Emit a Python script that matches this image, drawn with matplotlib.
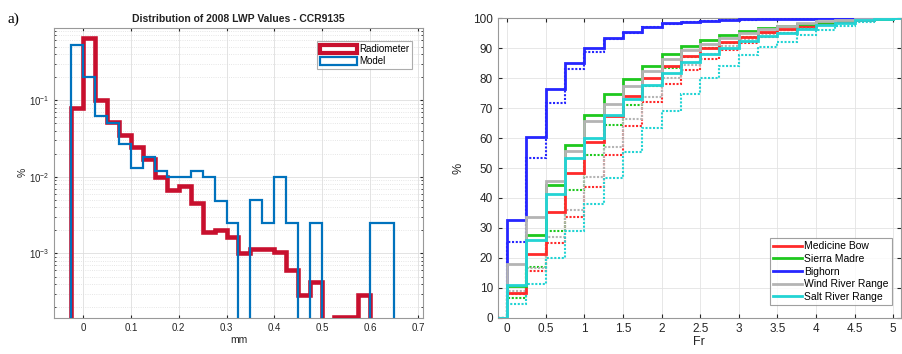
import numpy as np
import matplotlib
matplotlib.use("Agg")
import matplotlib.pyplot as plt
from matplotlib.patches import Patch
from matplotlib.lines import Line2D

plt.rcParams['font.family'] = ['Liberation Sans', 'DejaVu Sans']

#### left panel: LWP histogram (percent per 0.025 mm bin) ####
bin_edges = np.arange(-0.025, 0.651, 0.025)
radiometer = [0.078, 0.65, 0.10, 0.052, 0.035, 0.0247, 0.017, 0.0098, 0.0068,
              0.0076, 0.0045, 0.0019, 0.0020, 0.00166, 0.0010, 0.00114, 0.00114,
              0.00105, 0.0006, 0.00029, 0.00043, 0.0, 0.000146, 0.000146,
              0.00029, 0.0, 0.0]
model = [0.52, 0.20, 0.062, 0.050, 0.027, 0.0129, 0.018, 0.012, 0.010, 0.010,
         0.012, 0.010, 0.0049, 0.0025, 0.0, 0.005, 0.0025, 0.010, 0.0025, 0.0,
         0.0025, 0.0, 0.0, 0.0, 0.0, 0.0025, 0.0025]

#### right panel: cumulative distributions of Fr (%), 0.25 wide bins ####
fr_edges = np.arange(0, 5.01, 0.25)
regions = ['Medicine Bow', 'Sierra Madre', 'Bighorn', 'Wind River Range', 'Salt River Range']
colors = ['#ff2a2a', '#1ec81e', '#2626ff', '#b4b4b4', '#22d4d4']
cdf_solid = [
    [8.4, 21.2, 35.4, 48.2, 58.6, 67.5, 74.0, 80.0, 84.0, 87.3, 90.0, 92.0, 93.8, 95.3, 96.5, 97.5, 98.3, 99.0, 99.5, 99.8],
    [10.5, 27.6, 44.3, 57.8, 67.8, 74.6, 79.6, 84.0, 88.1, 90.9, 92.6, 94.3, 95.6, 96.6, 97.5, 98.2, 98.8, 99.3, 99.7, 99.9],
    [32.6, 60.5, 76.3, 85.2, 90.0, 93.3, 95.5, 97.2, 98.3, 98.9, 99.2, 99.4, 99.6, 99.7, 99.8, 99.9, 100, 100, 100, 100],
    [17.9, 33.5, 45.8, 55.8, 65.8, 71.5, 77.5, 82.5, 86.5, 89.5, 91.5, 93.3, 95.0, 96.3, 97.4, 98.3, 99.0, 99.5, 99.8, 100],
    [11.0, 26.0, 41.2, 53.2, 60.0, 67.8, 73.0, 77.7, 81.8, 85.4, 88.0, 90.2, 92.3, 94.0, 95.2, 96.5, 97.6, 98.5, 99.3, 99.8],
]
cdf_dotted = [
    [7.8, 15.6, 24.8, 33.5, 43.8, 54.3, 63.9, 72.2, 78.0, 82.8, 86.5, 89.5, 91.8, 93.7, 95.2, 96.5, 97.6, 98.6, 99.3, 99.8],
    [6.7, 17.0, 29.0, 42.5, 54.4, 64.3, 71.0, 77.4, 83.3, 87.2, 90.0, 91.9, 93.9, 95.0, 96.2, 97.2, 98.1, 98.9, 99.5, 99.9],
    [25.4, 53.2, 71.6, 83.0, 88.9, 93.0, 95.0, 97.0, 98.0, 98.7, 99.1, 99.3, 99.5, 99.7, 99.8, 99.9, 100, 100, 100, 100],
    [9.0, 16.5, 27.0, 36.0, 47.0, 57.1, 66.3, 73.8, 80.0, 84.5, 88.0, 90.8, 93.0, 94.8, 96.2, 97.4, 98.3, 99.0, 99.5, 99.9],
    [4.5, 11.3, 19.8, 29.1, 37.9, 46.8, 55.5, 63.2, 69.0, 74.8, 80.0, 84.2, 87.8, 90.4, 92.2, 94.4, 96.1, 97.4, 98.9, 99.8],
]

axis_col = '#262626'
red = '#c8102e'
blue = '#0072bd'

fig = plt.figure(figsize=(9.02, 3.54), dpi=100)
ax1 = fig.add_axes([0.0602, 0.1025, 0.4084, 0.8192])
ax2 = fig.add_axes([0.5518, 0.1025, 0.4471, 0.8458])

# ---- left ----
ax1.set_yscale('log')
ax1.stairs(radiometer, bin_edges, baseline=1e-9, color=red, lw=3.3, zorder=3)
ax1.stairs(model, bin_edges, baseline=1e-9, color=blue, lw=1.6, zorder=4)
ax1.set_xlim(-0.06, 0.71)
ax1.set_ylim(1.45e-4, 0.88)
ax1.set_xticks(np.arange(0, 0.71, 0.1))
ax1.set_xticklabels(['0', '0.1', '0.2', '0.3', '0.4', '0.5', '0.6', '0.7'])
ax1.grid(True, which='major', color='#dedede', lw=0.6)
ax1.grid(True, which='minor', axis='y', color='#dedede', lw=0.6, ls=':')
ax1.tick_params(which='both', direction='in', top=True, right=True, colors=axis_col,
                labelsize=7, length=2.5)
ax1.tick_params(which='minor', length=1.5)
ax1.set_title('Distribution of 2008 LWP Values - CCR9135', fontsize=7.5,
              fontweight='bold', color='#222222', pad=4)
ax1.set_xlabel('mm', fontsize=7.5, color=axis_col, labelpad=2)
ax1.set_ylabel('%', fontsize=7.5, color=axis_col, labelpad=1)
for s in ax1.spines.values():
    s.set_color('#999999')
    s.set_linewidth(0.8)
handles = [Patch(facecolor='white', edgecolor=red, lw=3, label='Radiometer'),
           Patch(facecolor='white', edgecolor=blue, lw=1.6, label='Model')]
leg = ax1.legend(handles=handles, loc='upper right', fontsize=7, frameon=True,
                 fancybox=False, edgecolor='#999999', handlelength=3.8,
                 handleheight=0.9, borderpad=0.3, labelspacing=0.2,
                 handletextpad=0.2, bbox_to_anchor=(0.985, 0.97))
leg.get_frame().set_linewidth(0.8)
fig.text(0.008, 0.965, 'a)', fontsize=11, family='Liberation Serif', va='top')

# ---- right ----
x_lo, x_hi = -0.12, 5.1
step_edges = np.concatenate([[x_lo], fr_edges, [x_hi]])
for i in range(len(regions)):
    ax2.stairs([0] + cdf_dotted[i] + [100], step_edges, baseline=None,
               color=colors[i], lw=1.5, ls=(0, (1.0, 0.8)), zorder=3)
    ax2.stairs([0] + cdf_solid[i] + [100], step_edges, baseline=None,
               color=colors[i], lw=2.0, zorder=4)
ax2.set_xlim(x_lo, x_hi)
ax2.set_ylim(0, 100)
ax2.set_xticks(np.arange(0, 5.01, 0.5))
ax2.set_xticklabels(['0', '0.5', '1', '1.5', '2', '2.5', '3', '3.5', '4', '4.5', '5'])
ax2.set_yticks(np.arange(0, 101, 10))
ax2.grid(True, color='#e3e3e3', lw=0.6)
ax2.tick_params(direction='in', top=True, right=True, colors=axis_col,
                labelsize=8.5, length=3)
ax2.set_xlabel('Fr', fontsize=9, color=axis_col, labelpad=1)
ax2.set_ylabel('%', fontsize=9, color=axis_col, labelpad=6)
for s in ax2.spines.values():
    s.set_color('#999999')
    s.set_linewidth(0.8)
lines = [Line2D([], [], color=c, lw=2) for c in colors]
leg2 = ax2.legend(lines, regions, loc='lower right', fontsize=7.5, frameon=True,
                  fancybox=False, edgecolor='#888888', handlelength=2.8,
                  borderpad=0.3, labelspacing=0.25, handletextpad=0.2,
                  bbox_to_anchor=(0.99, 0.025))
leg2.get_frame().set_linewidth(0.8)

fig.savefig('out.png', dpi=100)
